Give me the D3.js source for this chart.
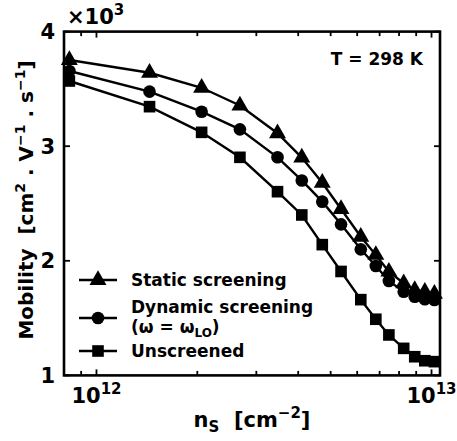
<!DOCTYPE html>
<html><head><meta charset="utf-8">
<script src="https://cdn.jsdelivr.net/npm/d3@7"></script>
<style>body{margin:0;background:#fff}svg{display:block;font-family:"DejaVu Sans";font-weight:bold}</style>
</head><body><svg id="c" width="457" height="441"></svg>
<script>
const ns = [8.3e11, 1.44e12, 2.06e12, 2.68e12, 3.47e12, 4.1e12, 4.72e12, 5.37e12, 6.15e12, 6.82e12, 7.46e12, 8.26e12, 8.91e12, 9.55e12, 1.02e13];
const staticScr = [3752, 3641, 3510, 3355, 3113, 2901, 2681, 2452, 2210, 2051, 1905, 1804, 1745, 1730, 1712];
const dynamicScr = [3656, 3476, 3301, 3147, 2903, 2701, 2516, 2318, 2100, 1955, 1824, 1730, 1687, 1664, 1658];
const unscreened = [3569, 3345, 3121, 2903, 2603, 2400, 2141, 1907, 1661, 1490, 1353, 1236, 1163, 1128, 1120];
const yTicks = [1000, 2000, 3000, 4000];
const yTickLabels = ["1", "2", "3", "4"];
const xMajor = [1e12, 1e13];
const xMinor = [9e11, 2e12, 3e12, 4e12, 5e12, 6e12, 7e12, 8e12, 9e12];

const svg = d3.select("#c");
const L = 64, R = 440, T = 31.6, B = 375.4;
const x = d3.scaleLog().domain([8e11, 1.06e13]).range([L, R]);
const y = d3.scaleLinear().domain([1000, 4000]).range([B, T]);

const g = svg.append("g");
function ticksX(vals, len, yy, dir) {
  g.selectAll(null).data(vals).enter().append("line")
    .attr("x1", d => x(d)).attr("x2", d => x(d))
    .attr("y1", yy).attr("y2", yy + dir * len)
    .attr("stroke", "#000").attr("stroke-width", 1.8);
}
ticksX(xMajor, 6, B, -1); ticksX(xMinor, 4.5, B, -1);
ticksX(xMajor, 6, T, 1); ticksX(xMinor, 4.5, T, 1);
g.selectAll(null).data(yTicks).enter().append("line")
  .attr("x1", L).attr("x2", L + 6).attr("y1", d => y(d)).attr("y2", d => y(d))
  .attr("stroke", "#000").attr("stroke-width", 1.8);
g.selectAll(null).data(yTicks).enter().append("line")
  .attr("x1", R).attr("x2", R - 6).attr("y1", d => y(d)).attr("y2", d => y(d))
  .attr("stroke", "#000").attr("stroke-width", 1.8);

svg.selectAll(null).data(yTicks).enter().append("text")
  .attr("x", L - 9).attr("y", d => y(d) + 7.5).attr("text-anchor", "end")
  .attr("font-size", 21).text((d, i) => yTickLabels[i]);

xMajor.forEach(v => {
  const t = svg.append("text").attr("x", x(v)).attr("y", 403).attr("text-anchor", "middle").attr("font-size", 21);
  t.append("tspan").text("10");
  t.append("tspan").attr("font-size", 15).attr("dy", -9).text(String(Math.round(Math.log10(v))));
});

const m = svg.append("text").attr("x", 67).attr("y", 24).attr("font-size", 21);
m.append("tspan").text("×10");
m.append("tspan").attr("font-size", 15).attr("dy", -9).text("3");

const xt = svg.append("text").attr("x", 252).attr("y", 427).attr("text-anchor", "middle").attr("font-size", 21);
xt.append("tspan").text("n");
xt.append("tspan").attr("font-size", 15).attr("dy", 5).text("S");
xt.append("tspan").attr("dy", -5).text("\u00a0\u00a0[cm");
xt.append("tspan").attr("font-size", 15).attr("dy", -9).text("\u22122");
xt.append("tspan").attr("dy", 9).text("]");

const yt = svg.append("text").attr("transform", "translate(33,200) rotate(-90)").attr("text-anchor", "middle").attr("font-size", 20);
yt.append("tspan").text("Mobility\u00a0\u00a0[cm");
yt.append("tspan").attr("font-size", 14).attr("dy", -8).text("2");
yt.append("tspan").attr("dy", 8).text(" . V");
yt.append("tspan").attr("font-size", 14).attr("dy", -8).text("\u22121");
yt.append("tspan").attr("dy", 8).text(" . s");
yt.append("tspan").attr("font-size", 14).attr("dy", -8).text("\u22121");
yt.append("tspan").attr("dy", 8).text("]");

svg.append("text").attr("x", 423).attr("y", 65).attr("text-anchor", "end").attr("font-size", 17).text("T = 298 K");

const series = [
  {vals: staticScr, sym: d3.symbolTriangle, size: 125},
  {vals: dynamicScr, sym: d3.symbolCircle, size: 125},
  {vals: unscreened, sym: d3.symbolSquare, size: 135}
];
const line = d3.line().x(d => x(d[0])).y(d => y(d[1]));
series.forEach(s => {
  const pts = ns.map((n, i) => [n, s.vals[i]]);
  svg.append("path").attr("d", line(pts)).attr("fill", "none").attr("stroke", "#000").attr("stroke-width", 2.4);
  svg.selectAll(null).data(pts).enter().append("path")
    .attr("transform", d => `translate(${x(d[0])},${y(d[1])})`)
    .attr("d", d3.symbol().type(s.sym).size(s.size)).attr("fill", "#000");
});

svg.append("rect").attr("x", L).attr("y", T).attr("width", R - L).attr("height", B - T)
  .attr("fill", "none").attr("stroke", "#000").attr("stroke-width", 2.6);

const leg = [
  {sym: d3.symbolTriangle, size: 125, y: 280},
  {sym: d3.symbolCircle, size: 125, y: 318},
  {sym: d3.symbolSquare, size: 135, y: 351}
];
leg.forEach(l => {
  svg.append("line").attr("x1", 79).attr("x2", 117).attr("y1", l.y).attr("y2", l.y).attr("stroke", "#000").attr("stroke-width", 2.4);
  svg.append("path").attr("transform", `translate(98,${l.y})`).attr("d", d3.symbol().type(l.sym).size(l.size)).attr("fill", "#000");
});
svg.append("text").attr("x", 131).attr("y", 286).attr("font-size", 17).text("Static screening");
svg.append("text").attr("x", 131).attr("y", 313).attr("font-size", 17).text("Dynamic screening");
const om = svg.append("text").attr("x", 131).attr("y", 333).attr("font-size", 17);
om.append("tspan").text("(ω = ω");
om.append("tspan").attr("font-size", 12).attr("dy", 4).text("LO");
om.append("tspan").attr("dy", -4).text(")");
svg.append("text").attr("x", 131).attr("y", 357).attr("font-size", 17).text("Unscreened");
</script></body></html>
